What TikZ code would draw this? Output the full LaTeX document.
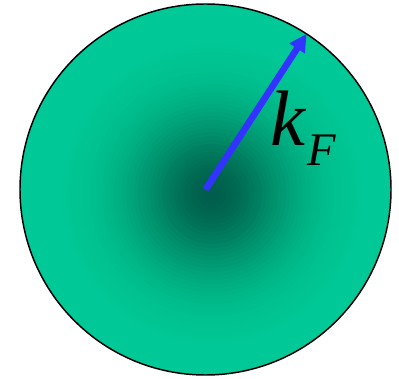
\documentclass[tikz,border=0pt]{standalone}
\usepackage{fontspec}
\setmainfont{Liberation Serif}
\usepackage{xcolor}
\usepackage{tikz}
\usetikzlibrary{arrows.meta}
\definecolor{SeaDark}{RGB}{0,94,76}
\definecolor{SeaEdge}{RGB}{0,200,150}
\definecolor{KBlue}{RGB}{51,51,255}

\begin{document}
\begin{tikzpicture}[x=0.75pt,y=0.75pt]
  \useasboundingbox (0,0) rectangle (399,378);

  % ----- FERMI SEA -----
  \node[circle, draw=black, line width=1.1pt, fill=SeaEdge,
        minimum size=278.25pt, inner sep=0pt, outer sep=0pt]
    (sea) at (205.5,188.5) {};

  % dark core (stacked rings, gaussian falloff)
  \foreach \r in {150,146,...,2} {%
    \pgfmathsetmacro\fin{0.97*exp(-(\r/74)^2)}%
    \pgfmathsetmacro\fout{0.97*exp(-((\r+4)/74)^2)}%
    \pgfmathsetmacro\op{1-(1-\fin)/(1-\fout)}%
    \fill[SeaDark, opacity=\op] (212,184) circle (\r);
  }%

  % ----- FERMI WAVEVECTOR -----
  \draw[KBlue, line width=5pt,
        -{Triangle[length=13pt,width=13pt]}]
    (sea.center) -- (sea.57);

  % label
  \node[anchor=base west, inner sep=0pt, font=\fontsize{59}{59}\selectfont\itshape]
    (klabel) at (270,232) {k};
  \node[anchor=base west, inner sep=0pt, font=\fontsize{35}{35}\selectfont\itshape]
    (Flabel) at (307,212) {F};
\end{tikzpicture}
\end{document}
